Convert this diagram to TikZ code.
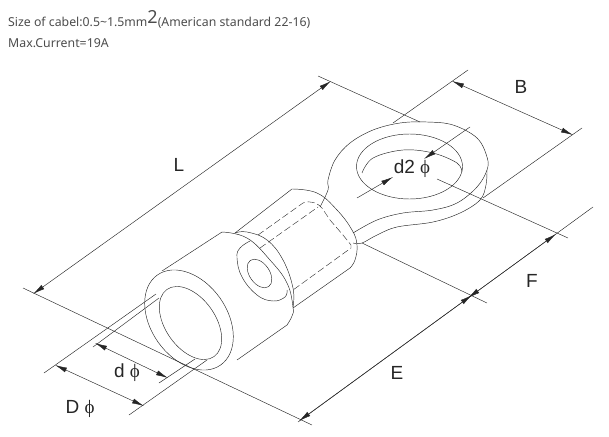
\documentclass[tikz,border=0pt]{standalone}
\usepackage{fontspec}
\setmainfont{Liberation Sans}
\newfontfamily\topfont{Noto Sans}
\newfontfamily\phifont{Liberation Serif}
\usetikzlibrary{arrows.meta}
\tikzset{
  part/.style={draw=black!85,line width=0.45pt},
  hid/.style={draw=black!85,line width=0.4pt,dash pattern=on 7pt off 3pt},
  extline/.style={draw=black!85,line width=0.45pt},
  dimline/.style={draw=black!85,line width=0.45pt,{Latex[length=12pt,width=5pt]}-{Latex[length=12pt,width=5pt]}},
  halfdim/.style={draw=black!85,line width=0.45pt,-{Latex[length=12pt,width=5pt]}},
  lab/.style={font=\fontsize{19}{21}\selectfont,text=black!85,inner sep=0pt},
  toptext/.style={font=\topfont\fontsize{12.3}{14}\selectfont,text=black!70,inner sep=0pt,anchor=west}
}
\newcommand{\phis}{{\phifont\fontsize{19}{21}\selectfont ϕ}}
\begin{document}
\begin{tikzpicture}[x=1pt,y=-1pt]
\useasboundingbox (0,0) rectangle (609,436);
% texts
\node[toptext] (t1) at (8,19) {Size of cabel:0.5\textasciitilde 1.5mm\raisebox{3pt}{\fontsize{18}{18}\selectfont 2}(American standard 22-16)};
\node[toptext] (t2) at (8,43) {Max.Current=19A};
% front barrel
\draw[part,rotate around={-55:(189,320)}] (189,320) ellipse [x radius=55,y radius=38];
\draw[part,rotate around={-55:(190.5,323)}] (190.5,323) ellipse [x radius=41,y radius=25];
\draw[part] (162,271) -- (222,232)
  plot[smooth,tension=0.7] coordinates {(222,232) (247,238) (270,260) (287,283) (293,307) (292,316) (287,325)};
\draw[part] (287,325) -- (237,360);
% face
\draw[part] plot[smooth,tension=0.7] coordinates {(235,233) (247,232) (267,240) (283,260) (293,288) (293,307)};
\draw[part] plot[smooth,tension=0.7] coordinates {(250,241) (240,248) (237,258) (242,277) (257,295) (273,301) (285,297) (287,290)};
\draw[part,rotate around={-55:(259.5,273.5)}] (259.5,273.5) ellipse [x radius=16,y radius=10];
% middle barrel
\draw[part] (235,233) -- (292,189)
  plot[smooth,tension=0.7] coordinates {(292,189) (317,193) (337,210) (352,230) (357,245) (355,260) (350,268)};
\draw[part] (350,268) -- (293,308);
% hidden
\draw[hid] (258,235) -- (303,203) .. controls (310,200) and (318,203) .. (322,208) -- (330,220) -- (343,235) -- (351,245) -- (351,248) -- (293,290);
\draw[hid] (260,248) -- (318,207);
% ring
\draw[part] plot[smooth,tension=0.6] coordinates {(320,207) (328,190) (328,180) (335,160) (350,143) (373,130) (400,123) (427,122) (453,125) (477,138) (487,157) (487,170) (477,187) (457,203) (433,210) (403,213) (377,220) (353,233)};
\draw[part] plot[smooth,tension=0.6] coordinates {(487,170) (486,185) (480,200) (460,213) (433,222) (397,227) (377,235) (362,243) (353,243)};
\draw[part] (409.5,166.5) ellipse [x radius=53,y radius=32.5];
\draw[part] plot[smooth,tension=0.6] coordinates {(362,173) (373,158) (403,150) (433,153) (457,163) (462,172)};
% extension lines
\draw[extline] (318,76) -- (420,122);
\draw[extline] (23,288) -- (312,425);
\draw[extline] (393,123) -- (468,70);
\draw[extline] (483,198) -- (582,128);
\draw[extline] (437,179) -- (568,238);
\draw[extline] (362,243) -- (487,303);
\draw[extline] (44,373) -- (156,294);
\draw[extline] (129,415) -- (207,360);
\draw[extline] (93,347) -- (159,298);
\draw[extline] (159,383) -- (195,359);
\draw[extline] (298,422) -- (593,207);
% dimension lines
\coordinate (La) at (33,294); \coordinate (Lb) at (331,81);
\coordinate (Ba) at (452,81); \coordinate (Bb) at (573,135);
\coordinate (Da) at (55,365); \coordinate (Db) at (144,406);
\coordinate (da) at (95,343); \coordinate (db) at (168,378);
\coordinate (d2a) at (357,198); \coordinate (d2b) at (393,177);
\coordinate (d2c) at (470,127); \coordinate (d2d) at (424,159);
\coordinate (Ea) at (299,421); \coordinate (Eb) at (472,295);
\coordinate (Fa) at (468,298); \coordinate (Fb) at (556,234);
\draw[dimline] (La) -- (Lb);
\draw[dimline] (Ba) -- (Bb);
\draw[dimline] (Da) -- (Db);
\draw[dimline] (da) -- (db);
\draw[dimline] (Ea) -- (Eb);
\draw[dimline] (Fa) -- (Fb);
\draw[halfdim] (d2a) -- (d2b);
\draw[halfdim] (d2c) -- (d2d);
% labels
\node[lab] (L) at (179,165) {L};
\node[lab] (B) at (521,87) {B};
\node[lab] (F) at (532,281) {F};
\node[lab] (E) at (397,373) {E};
\node[lab] (d2) at (412,169) {d2 \phis};
\node[lab] (d) at (127,373) {d \phis};
\node[lab] (D) at (80,409) {D \phis};
\end{tikzpicture}
\end{document}
